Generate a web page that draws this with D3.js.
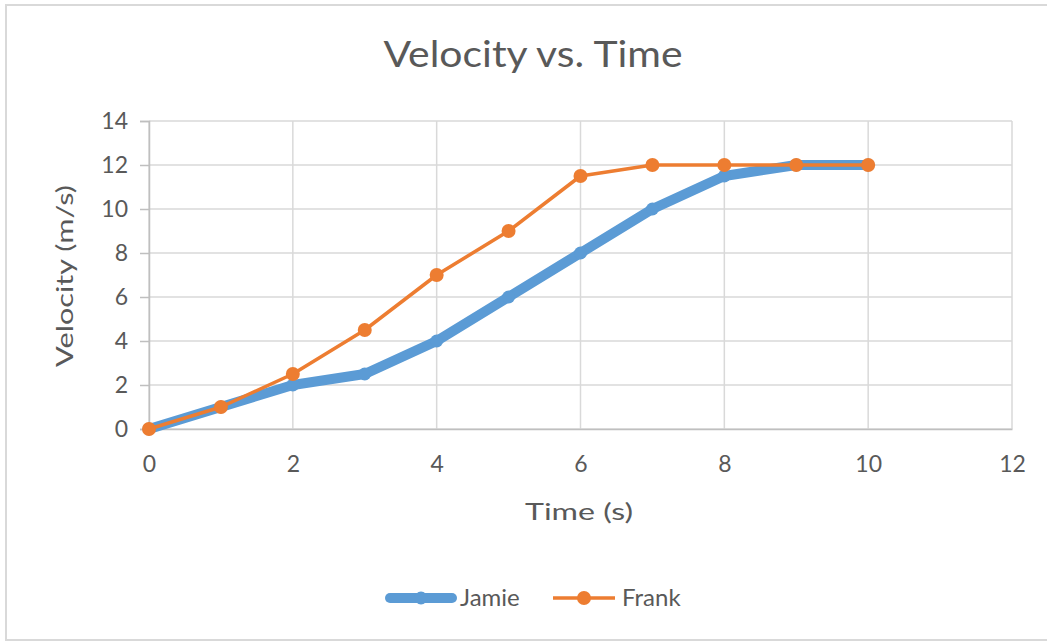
<!DOCTYPE html>
<html>
<head>
<meta charset="utf-8">
<script src="https://cdn.jsdelivr.net/npm/d3@7"></script>
<style>
  html, body { margin: 0; padding: 0; background: #fff; overflow: hidden; }
  svg { display: block; }
  text { font-family: Lato, "Open Sans", sans-serif; fill: #595959; }
</style>
</head>
<body>
<svg id="chart" width="1047" height="641"></svg>
<script>
const title = "Velocity vs. Time";
const xTitle = "Time (s)";
const yTitle = "Velocity (m/s)";
const times = [0, 1, 2, 3, 4, 5, 6, 7, 8, 9, 10];
const jamie = [0, 1, 2, 2.5, 4, 6, 8, 10, 11.5, 12, 12];
const frank = [0, 1, 2.5, 4.5, 7, 9, 11.5, 12, 12, 12, 12];
const seriesNames = ["Jamie", "Frank"];
const xTicks = [0, 2, 4, 6, 8, 10, 12];
const yTicks = [0, 2, 4, 6, 8, 10, 12, 14];

(function () {
const svg = d3.select("#chart");
const pLeft = 149, pRight = 1012, pTop = 121, pBottom = 429;

// outer border
svg.append("rect").attr("x", 6).attr("y", 5).attr("width", 1200).attr("height", 635)
  .attr("fill", "#fff").attr("stroke", "#d9d9d9").attr("stroke-width", 2);

const x = d3.scaleLinear().domain([0, 12]).range([pLeft, pRight]);
const y = d3.scaleLinear().domain([0, 14]).range([pBottom, pTop]);

// gridlines
const grid = svg.append("g");
grid.selectAll(".hg").data(yTicks).join("line")
  .attr("x1", pLeft).attr("x2", pRight)
  .attr("y1", d => y(d)).attr("y2", d => y(d))
  .attr("stroke", "#d9d9d9").attr("stroke-width", 1.5);
grid.selectAll(".vg").data(xTicks).join("line")
  .attr("y1", pTop).attr("y2", pBottom)
  .attr("x1", d => x(d)).attr("x2", d => x(d))
  .attr("stroke", "#d9d9d9").attr("stroke-width", 1.5);

// y axis
const yAxis = svg.append("g").attr("transform", `translate(${pLeft},0)`)
  .call(d3.axisLeft(y).tickValues(yTicks).tickSize(9).tickPadding(12).tickFormat(d3.format("d")));
yAxis.select(".domain").attr("stroke", "#bfbfbf").attr("stroke-width", 1.5);
yAxis.selectAll(".tick line").attr("stroke", "#bfbfbf").attr("stroke-width", 1.5);
yAxis.selectAll(".tick text").attr("font-size", 23).attr("font-family", "Lato").attr("fill", "#595959");

// x axis
const xAxis = svg.append("g").attr("transform", `translate(0,${pBottom})`)
  .call(d3.axisBottom(x).tickValues(xTicks).tickSize(0).tickPadding(27).tickFormat(d3.format("d")));
xAxis.select(".domain").attr("stroke", "#bfbfbf").attr("stroke-width", 1.5);
xAxis.selectAll(".tick text").attr("font-size", 23).attr("font-family", "Lato").attr("fill", "#595959");

// titles
svg.append("text").attr("x", 533).attr("y", 67).attr("text-anchor", "middle")
  .attr("font-size", 37).attr("textLength", 299).attr("lengthAdjust", "spacingAndGlyphs").text(title);
svg.append("text").attr("x", 579).attr("y", 520).attr("text-anchor", "middle")
  .attr("font-size", 24).attr("textLength", 108).attr("lengthAdjust", "spacingAndGlyphs").text(xTitle);
svg.append("text").attr("transform", "translate(73,276) rotate(-90)").attr("text-anchor", "middle")
  .attr("font-size", 24).attr("textLength", 182).attr("lengthAdjust", "spacingAndGlyphs").text(yTitle);

const line = d3.line().x((d, i) => x(times[i])).y(d => y(d));

// Jamie
svg.append("path").datum(jamie).attr("d", line).attr("fill", "none")
  .attr("stroke", "#5b9bd5").attr("stroke-width", 10).attr("stroke-linejoin", "round");
svg.selectAll(".jm").data(jamie).join("circle")
  .attr("cx", (d, i) => x(times[i])).attr("cy", d => y(d)).attr("r", 6.5).attr("fill", "#5b9bd5");

// Frank
svg.append("path").datum(frank).attr("d", line).attr("fill", "none")
  .attr("stroke", "#ed7d31").attr("stroke-width", 3.5).attr("stroke-linejoin", "round");
svg.selectAll(".fm").data(frank).join("circle")
  .attr("cx", (d, i) => x(times[i])).attr("cy", d => y(d)).attr("r", 7).attr("fill", "#ed7d31");

// legend
const legY = 598;
const leg = [
  { name: seriesNames[0], color: "#5b9bd5", w: 10, r: 6.5, x1: 390, x2: 452, tx: 460 },
  { name: seriesNames[1], color: "#ed7d31", w: 3.5, r: 7, x1: 553, x2: 615, tx: 622 }
];
leg.forEach(l => {
  svg.append("line").attr("x1", l.x1).attr("x2", l.x2).attr("y1", legY).attr("y2", legY)
    .attr("stroke", l.color).attr("stroke-width", l.w).attr("stroke-linecap", l.w > 5 ? "round" : "butt");
  svg.append("circle").attr("cx", (l.x1 + l.x2) / 2).attr("cy", legY).attr("r", l.r).attr("fill", l.color);
  svg.append("text").attr("x", l.tx).attr("y", legY + 8).attr("font-size", 24).text(l.name);
});
})();
</script>
</body>
</html>
